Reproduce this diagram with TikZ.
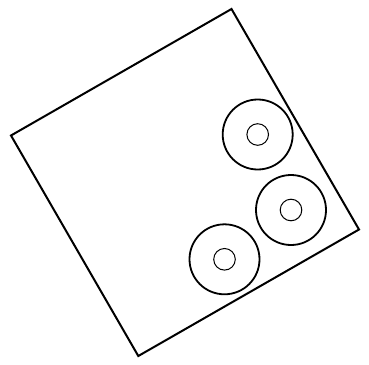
\documentclass[tikz,border=0pt]{standalone}
\begin{document}
\begin{tikzpicture}[x=1pt,y=-1pt,
  frame/.style={line width=2pt,line join=miter},
  outerring/.style={line width=1.8pt},
  innerring/.style={line width=1pt}]
\useasboundingbox (0,0) rectangle (369,364);
\coordinate (T) at (231.5,9);
\coordinate (R) at (359,229.5);
\coordinate (B) at (138.3,356);
\coordinate (L) at (11,135.5);
\draw[frame] (T) -- (R) -- (B) -- (L) -- cycle;
\coordinate (c1) at (257.7,134.5);
\coordinate (c2) at (291,210);
\coordinate (c3) at (224.5,259.3);
\foreach \n in {c1,c2,c3}{
  \draw[outerring] (\n) circle[radius=35];
  \draw[innerring] (\n) circle[radius=10.8];
}
\end{tikzpicture}
\end{document}
